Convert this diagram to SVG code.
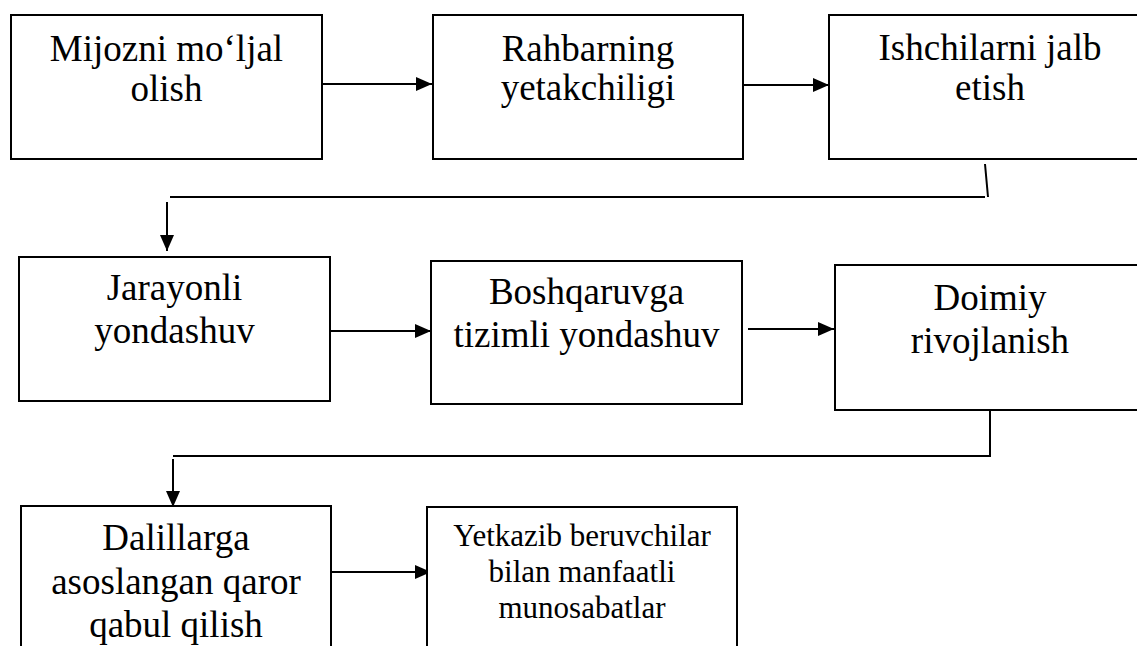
<svg xmlns="http://www.w3.org/2000/svg" width="1137" height="646" viewBox="0 0 1137 646">
<style>
.box{fill:#fff;stroke:#000;stroke-width:2}
.c{fill:none;stroke:#000;stroke-width:2}
.t{font-family:'Liberation Serif','Times New Roman',serif;font-size:37px;fill:#000;text-anchor:middle}
.s{font-family:'Liberation Serif','Times New Roman',serif;font-size:31px;fill:#000;text-anchor:middle}
</style>
<defs>
<marker id="ah" markerUnits="userSpaceOnUse" markerWidth="16" markerHeight="14" refX="16" refY="7" orient="auto">
<path d="M0,0 L16,7 L0,14 z" fill="#000"/>
</marker>
</defs>
<rect width="1137" height="646" fill="#fff"/>
<g id="connectors">
<line class="c" x1="322" y1="84" x2="432" y2="84" marker-end="url(#ah)"/>
<line class="c" x1="743" y1="85" x2="829" y2="85" marker-end="url(#ah)"/>
<path class="c" d="M985,164 L988,197 M985,197 L170,197"/>
<line class="c" x1="167" y1="202" x2="167" y2="251" marker-end="url(#ah)"/>
<line class="c" x1="330" y1="331" x2="431" y2="331" marker-end="url(#ah)"/>
<line class="c" x1="748" y1="329" x2="834" y2="329" marker-end="url(#ah)"/>
<path class="c" d="M990,410 L990,456 L173,456"/>
<line class="c" x1="173" y1="459" x2="173" y2="507" marker-end="url(#ah)"/>
<line class="c" x1="331" y1="572" x2="431" y2="572" marker-end="url(#ah)"/>
</g>
<g id="n1"><rect class="box" x="11" y="15" width="311" height="144"/>
<text class="t" x="166.5" y="61">Mijozni mo‘ljal</text>
<text class="t" x="166.5" y="101">olish</text></g>
<g id="n2"><rect class="box" x="433" y="15" width="310" height="144"/>
<text class="t" x="588" y="61">Rahbarning</text>
<text class="t" x="588" y="100">yetakchiligi</text></g>
<g id="n3"><rect class="box" x="829" y="15" width="330" height="144"/>
<text class="t" x="990" y="60">Ishchilarni jalb</text>
<text class="t" x="990" y="100">etish</text></g>
<g id="n4"><rect class="box" x="19" y="257" width="311" height="144"/>
<text class="t" x="174.5" y="300">Jarayonli</text>
<text class="t" x="174.5" y="343">yondashuv</text></g>
<g id="n5"><rect class="box" x="431" y="261" width="311" height="143"/>
<text class="t" x="586.5" y="304">Boshqaruvga</text>
<text class="t" x="586.5" y="347">tizimli yondashuv</text></g>
<g id="n6"><rect class="box" x="835" y="265" width="330" height="145"/>
<text class="t" x="990" y="310">Doimiy</text>
<text class="t" x="990" y="353">rivojlanish</text></g>
<g id="n7"><rect class="box" x="21" y="506" width="310" height="160"/>
<text class="t" x="176" y="550">Dalillarga</text>
<text class="t" x="176" y="594">asoslangan qaror</text>
<text class="t" x="176" y="637">qabul qilish</text></g>
<g id="n8"><rect class="box" x="427" y="507" width="310" height="160"/>
<text class="s" x="582" y="546">Yetkazib beruvchilar</text>
<text class="s" x="582" y="582">bilan manfaatli</text>
<text class="s" x="582" y="618">munosabatlar</text></g>
</svg>
